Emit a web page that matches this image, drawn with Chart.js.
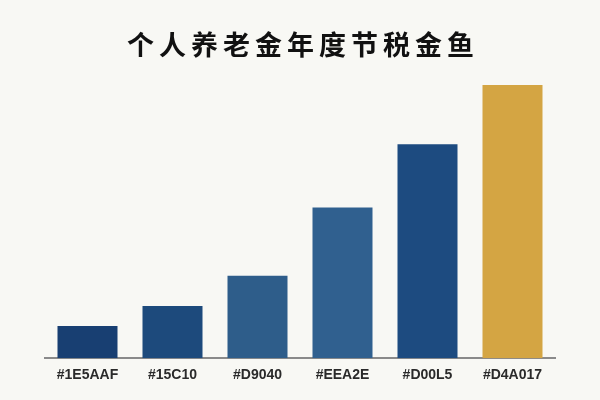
<!DOCTYPE html>
<html>
<head>
<meta charset="utf-8">
<script src="https://cdn.jsdelivr.net/npm/chart.js@4/dist/chart.umd.min.js"></script>
<style>
  html, body { margin: 0; padding: 0; background: #f8f8f4; }
  #wrap { width: 600px; height: 400px; }
</style>
</head>
<body>
<div id="wrap"><canvas id="myChart"></canvas></div>
<script>
const ctx = document.getElementById('myChart');

const chartTitle = '个人养老金年度节税金鱼';
const labels = ['#1E5AAF', '#15C10', '#D9040', '#EEA2E', '#D00L5', '#D4A017'];
const savings = [1200, 1950, 3080, 5630, 7990, 10200];
const barColors = ['#183f72', '#1d4a7c', '#2e5d8a', '#30608f', '#1d4b80', '#d4a543'];

// page background + spaced-out title
const paperPlugin = {
  id: 'paper',
  beforeDraw(chart) {
    const c = chart.ctx;
    c.save();
    c.fillStyle = '#f8f8f4';
    c.fillRect(0, 0, chart.width, chart.height);
    c.restore();
  },
  afterDraw(chart) {
    const c = chart.ctx;
    c.save();
    c.font = 'bold 27px "Noto Sans CJK SC", sans-serif';
    c.letterSpacing = '5px';
    c.fillStyle = '#111';
    c.textAlign = 'center';
    c.textBaseline = 'middle';
    c.fillText(chartTitle, chart.width / 2 + 3, 45);
    c.restore();
  }
};

new Chart(ctx, {
  type: 'bar',
  data: {
    labels: labels,
    datasets: [{
      data: savings,
      backgroundColor: barColors,
      borderWidth: 0,
      barPercentage: 0.706,
      categoryPercentage: 1
    }]
  },
  options: {
    responsive: true,
    maintainAspectRatio: false,
    animation: false,
    layout: {
      padding: { left: 45, right: 45, top: 69, bottom: 15 }
    },
    plugins: {
      legend: { display: false },
      title: { display: false },
      tooltip: { enabled: false }
    },
    scales: {
      x: {
        grid: { display: false },
        border: { display: true, color: '#8a8a8a', width: 2 },
        ticks: {
          color: '#2a2a2a',
          padding: 1,
          font: { family: '"Liberation Sans", Arial, sans-serif', size: 14, weight: 'bold' }
        }
      },
      y: {
        display: false,
        min: 0,
        max: 10800
      }
    }
  },
  plugins: [paperPlugin]
});
</script>
</body>
</html>
